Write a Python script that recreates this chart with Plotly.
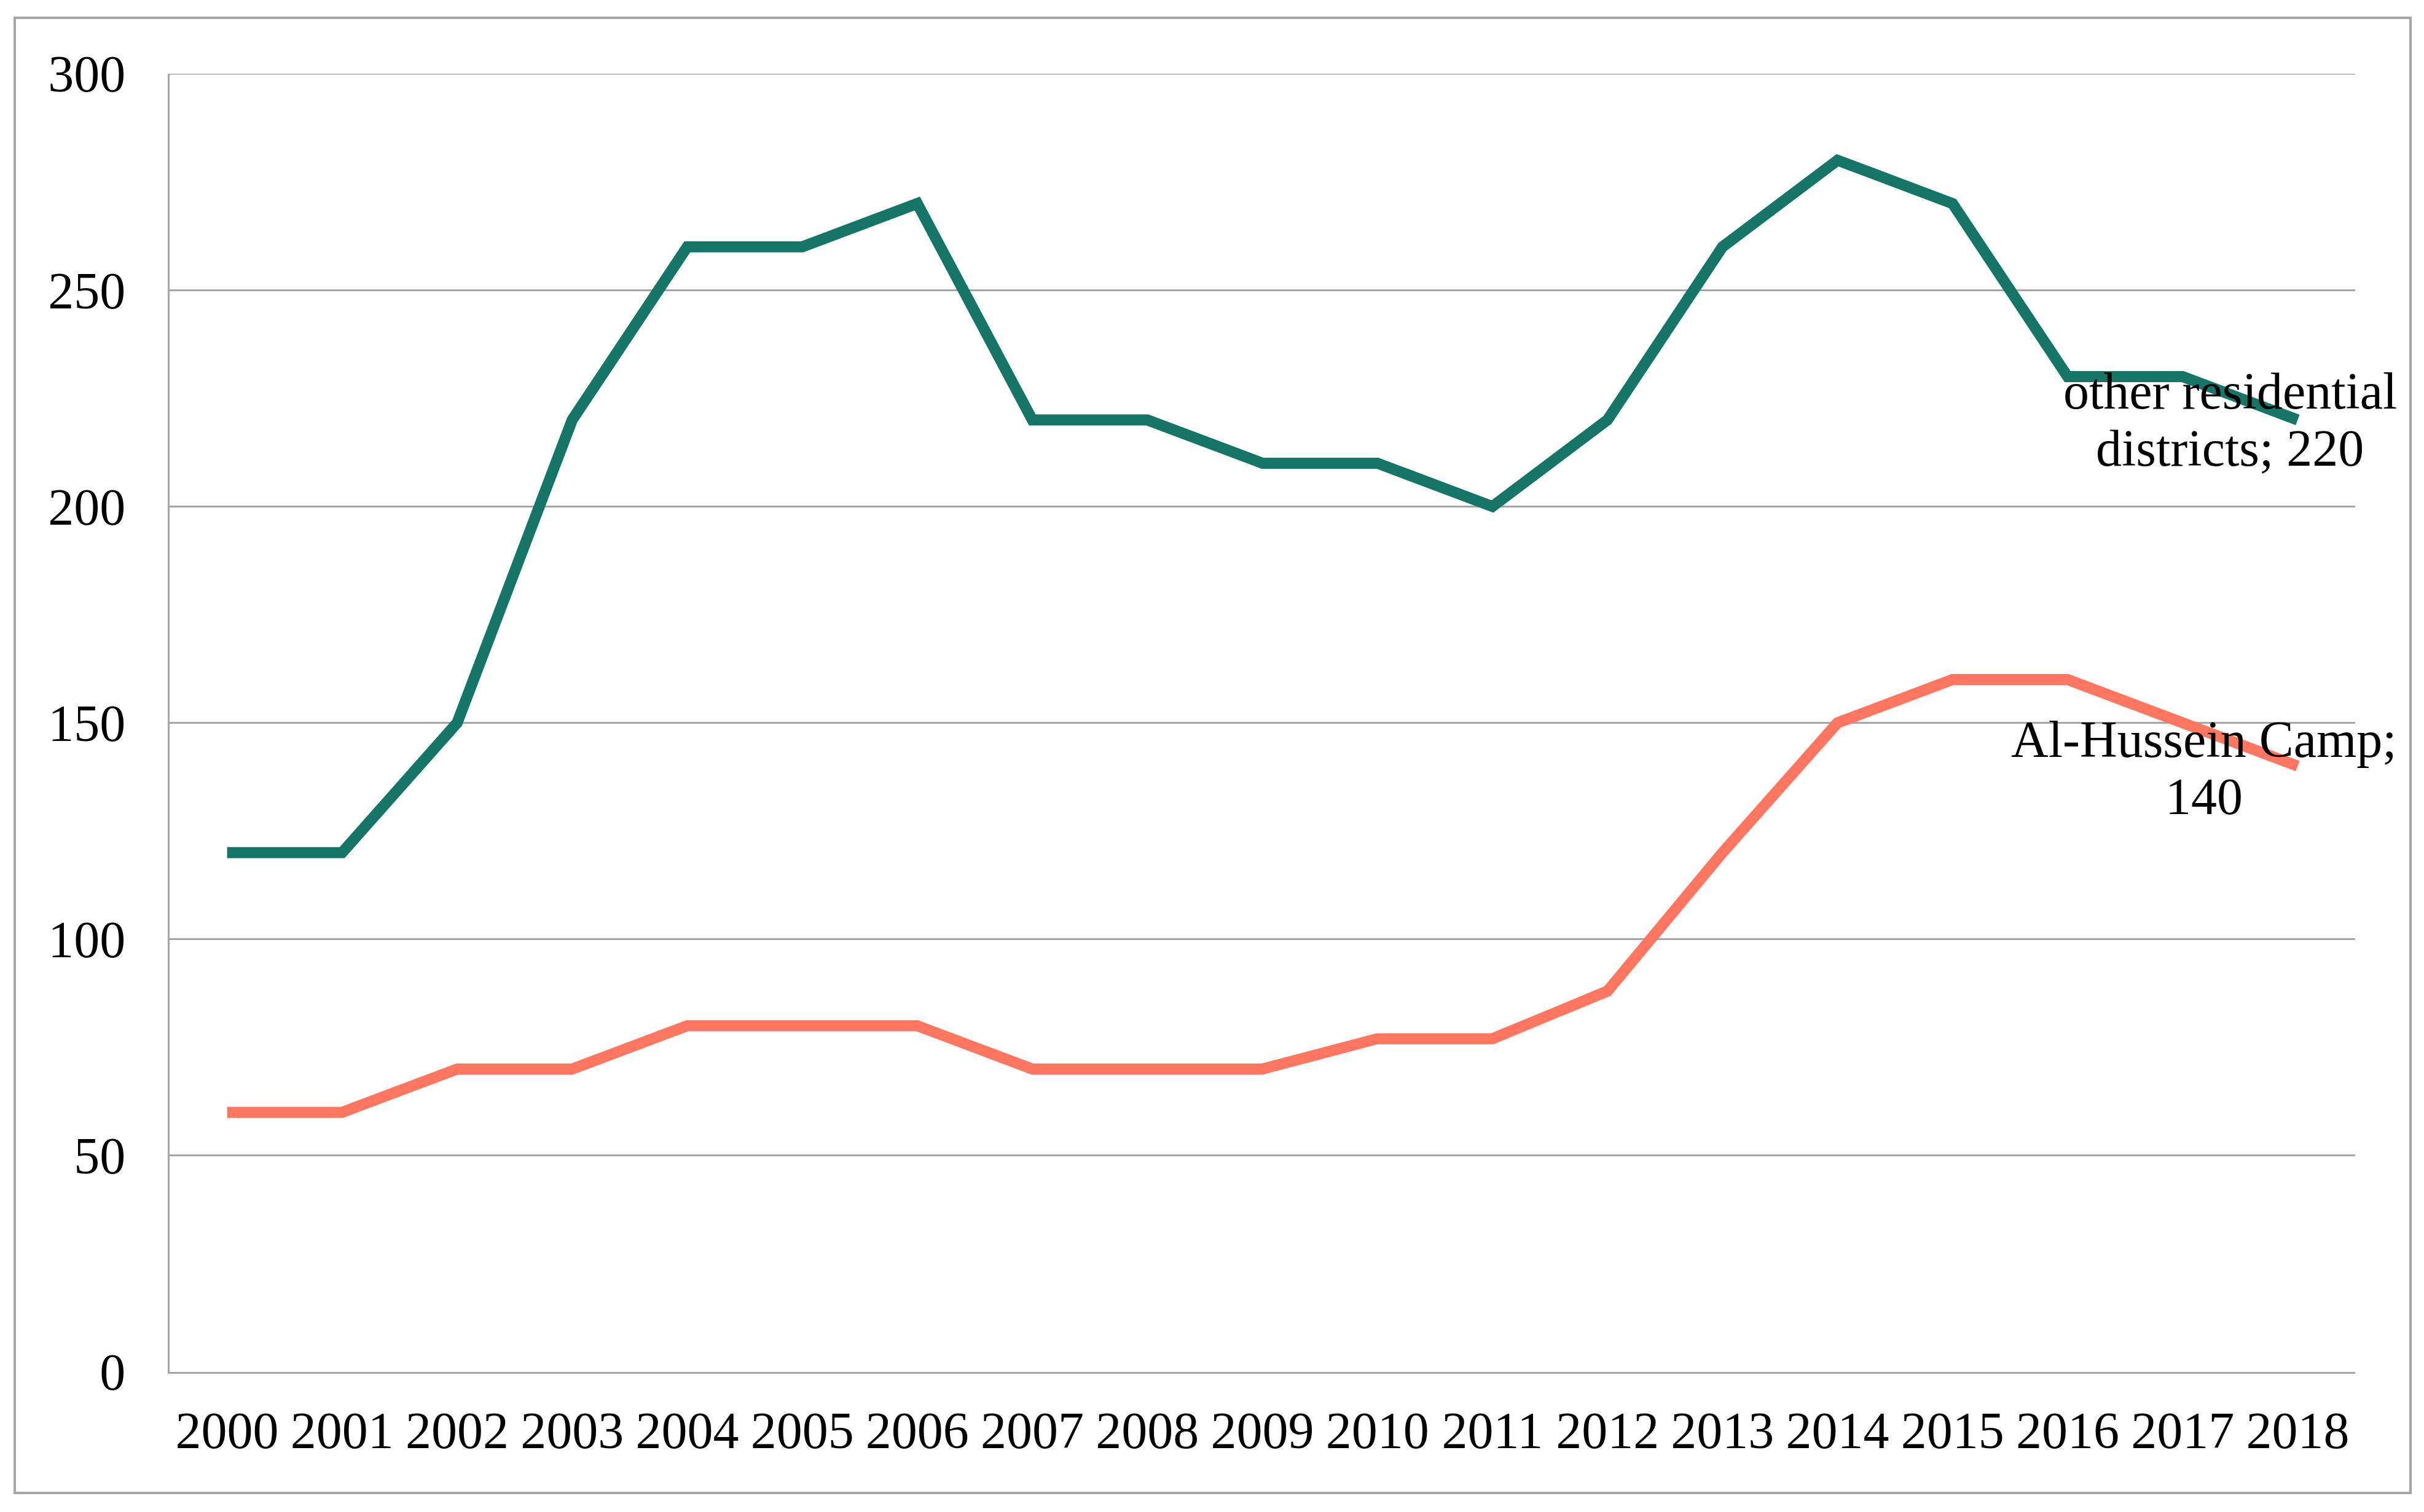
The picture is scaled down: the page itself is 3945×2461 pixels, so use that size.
import plotly.graph_objects as go

years = [str(y) for y in range(2000, 2019)]
other_residential = [120, 120, 150, 220, 260, 260, 270, 220, 220, 210, 210, 200, 220, 260, 280, 270, 230, 230, 220]
al_hussein = [60, 60, 70, 70, 80, 80, 80, 70, 70, 70, 77, 77, 88, 120, 150, 160, 160, 150, 140]
y_ticks = [0, 50, 100, 150, 200, 250, 300]

W, H = 3945, 2461
OFF = 8  # default page body margin
L, R, T, B = 276, 3833, 120, 2233  # plot area in page pixels
FONT = "Liberation Serif, Times New Roman, serif"
GREEN = "#177568"
SALMON = "#FF7661"
GRID = "#A6A6A6"

fig = go.Figure()
fig.add_trace(go.Scatter(x=years, y=other_residential, mode="lines",
                         line=dict(color=GREEN, width=18), name="other residential districts"))
fig.add_trace(go.Scatter(x=years, y=al_hussein, mode="lines",
                         line=dict(color=SALMON, width=18), name="Al-Hussein Camp"))

last = len(years) - 1

# data labels for last points
def label(lines, x, y, xshift, yshift, spacing=93):
    n = len(lines)
    for i, t in enumerate(lines):
        off = (n - 1) / 2 * spacing - i * spacing
        fig.add_annotation(x=x, y=y, text=t, showarrow=False, xshift=xshift, yshift=yshift + off,
                           xanchor="center", yanchor="middle",
                           font=dict(family=FONT, size=84, color="black"))

label(["other residential", "districts; 220"], last, other_residential[-1], -110, 0)
label(["Al-Hussein Camp;", "140"], last, al_hussein[-1], -152, -3)

pw, ph = R - L, B - T
# outer chart border
bx0, by0, bx1, by1 = 24, 29, 3923, 2430
fig.add_shape(type="rect", xref="paper", yref="paper",
              x0=(bx0 - L) / pw, x1=(bx1 - L) / pw,
              y0=(B - by1) / ph, y1=(B - by0) / ph,
              line=dict(color=GRID, width=4), fillcolor="rgba(0,0,0,0)", layer="below")
# top gridline (at range edge)
fig.add_shape(type="line", xref="paper", yref="y", x0=0, x1=1, y0=y_ticks[-1], y1=y_ticks[-1],
              line=dict(color=GRID, width=3), layer="below")

fig.update_layout(
    width=W, height=H,
    margin=dict(l=L - OFF, r=W - R + OFF, t=T - OFF, b=H - B + OFF),
    paper_bgcolor="white", plot_bgcolor="white",
    showlegend=False,
    font=dict(family=FONT, size=84, color="black"),
)
fig.update_xaxes(type="category", range=[-0.5, len(years) - 0.5], showgrid=False,
                 showline=True, linecolor=GRID, linewidth=3,
                 ticks="", tickfont=dict(family=FONT, size=84, color="black"),
                 ticklabelstandoff=20, zeroline=False)
fig.update_yaxes(range=[0, 300], tickvals=y_ticks, showgrid=True, gridcolor=GRID, gridwidth=3,
                 showline=True, linecolor=GRID, linewidth=3, ticks="",
                 tickfont=dict(family=FONT, size=84, color="black"),
                 ticklabelstandoff=52, zeroline=False)

fig.write_html("out.html")
